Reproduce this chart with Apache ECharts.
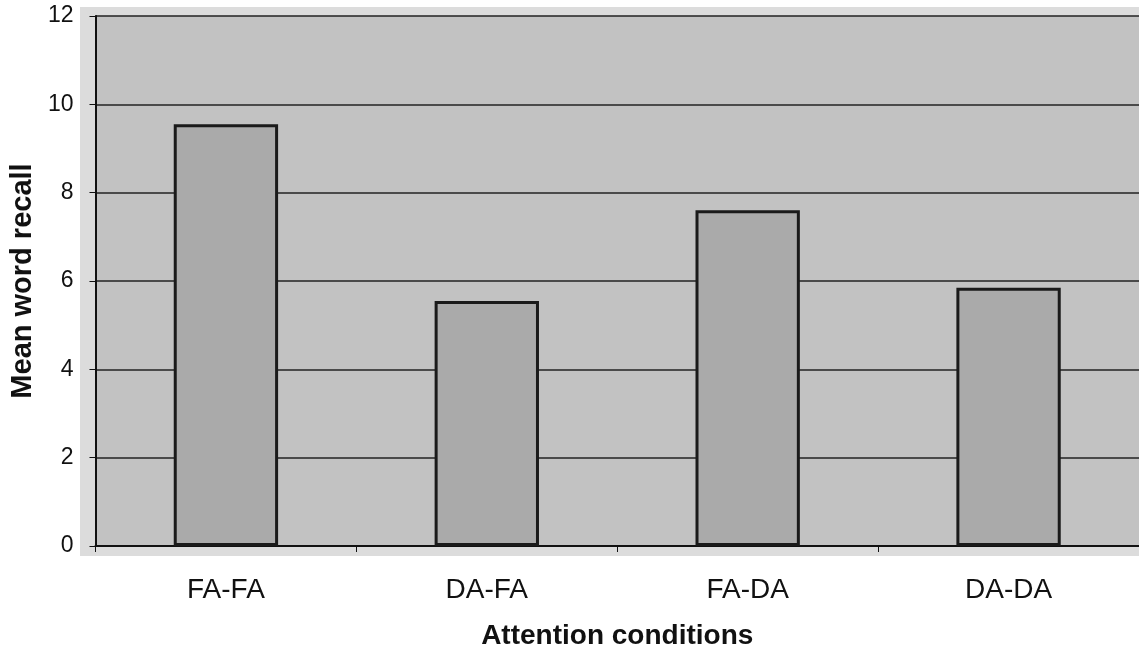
<!DOCTYPE html>
<html><head><meta charset="utf-8">
<script src="https://cdn.jsdelivr.net/npm/echarts@6/dist/echarts.min.js"></script>
<style>html,body{margin:0;padding:0;background:#fff}#c{width:1139px;height:655px}</style>
</head><body><div id="c"></div>
<script>
const categories = ['FA-FA', 'DA-FA', 'FA-DA', 'DA-DA'];
const recall = [9.55, 5.55, 7.6, 5.85];
const yTicks = [0, 2, 4, 6, 8, 10, 12];

const chart = echarts.init(document.getElementById('c'));
chart.setOption({
  animation: false,
  backgroundColor: '#ffffff',
  graphic: [{
    type: 'rect', z: -10, silent: true,
    shape: { x: 80, y: 7, width: 1059, height: 549 },
    style: { fill: '#dcdcdc' }
  }],
  grid: {
    left: 94, right: -1, top: 16, bottom: 109,
    show: true, backgroundColor: '#c2c2c2', borderWidth: 0, z: 0
  },
  xAxis: {
    type: 'category', data: categories,
    name: 'Attention conditions', nameLocation: 'middle', nameGap: 76,
    nameTextStyle: { fontFamily: 'Liberation Sans, Arial', fontWeight: 'bold', fontSize: 28, color: '#111' },
    axisLine: { lineStyle: { color: '#111', width: 2 } },
    axisTick: { show: true, length: 6, lineStyle: { color: '#111' } },
    axisLabel: { fontFamily: 'Liberation Sans, Arial', fontSize: 28, color: '#111', margin: 30 }
  },
  yAxis: {
    type: 'value', min: 0, max: 12, interval: 2,
    name: 'Mean word recall', nameLocation: 'middle', nameGap: 55, nameRotate: 90,
    nameTextStyle: { fontFamily: 'Liberation Sans, Arial', fontWeight: 'bold', fontSize: 29, color: '#111' },
    axisLine: { show: true, lineStyle: { color: '#111', width: 2 } },
    axisTick: { show: true, length: 6, lineStyle: { color: '#111' } },
    axisLabel: { fontFamily: 'Liberation Sans, Arial', fontSize: 23, color: '#111', margin: 22,
      formatter: v => yTicks.includes(v) ? String(v) : '' },
    splitLine: { show: true, lineStyle: { color: '#222', width: 1.5 } }
  },
  series: [{
    type: 'bar', data: recall, barWidth: '40%',
    itemStyle: { color: '#aaaaaa', borderColor: '#1a1a1a', borderWidth: 3 }
  }]
});
</script></body></html>
